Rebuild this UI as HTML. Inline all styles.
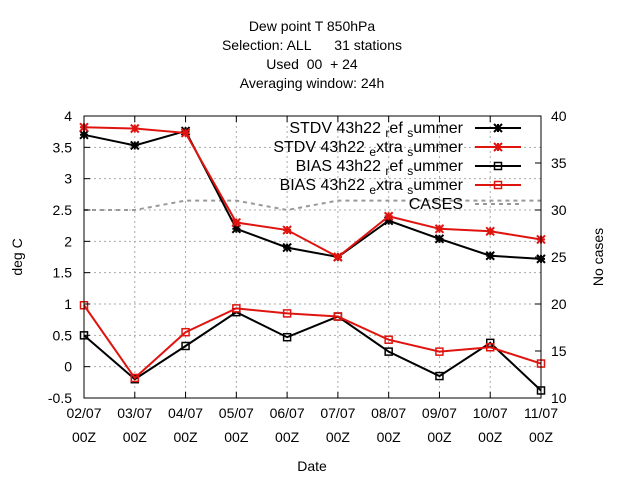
<!DOCTYPE html>
<html><head><meta charset="utf-8"><style>body{margin:0;background:#fff}svg text{font-family:"Liberation Sans",sans-serif;font-size:14px;white-space:pre}</style></head>
<body>
<svg id="c" width="640" height="480">
<g id="grid"></g>
<g id="marks"></g>
<rect x="84" y="116" width="457" height="282" fill="none" stroke="#000"/>
<g id="axes"></g>
<g text-anchor="middle" xml:space="preserve">
<text x="312" y="31">Dew point T 850hPa</text>
<text x="312" y="50">Selection: ALL      31 stations</text>
<text x="312" y="69">Used  00  + 24</text>
<text x="312" y="88">Averaging window: 24h</text></g>
<text x="312" y="471" text-anchor="middle">Date</text>
<text transform="translate(22,257) rotate(-90)" text-anchor="middle">deg C</text>
<text transform="translate(603,257) rotate(-90)" text-anchor="middle">No cases</text>
<g id="legend"></g>
</svg>
<script>
const dates=["02/07","03/07","04/07","05/07","06/07","07/07","08/07","09/07","10/07","11/07"];
const stdvRef=[3.7,3.53,3.76,2.2,1.9,1.75,2.33,2.04,1.77,1.72];
const stdvExtra=[3.82,3.8,3.73,2.3,2.18,1.75,2.4,2.2,2.16,2.03];
const biasRef=[0.5,-0.2,0.33,0.87,0.47,0.8,0.24,-0.15,0.38,-0.38];
const biasExtra=[0.98,-0.18,0.55,0.93,0.85,0.8,0.43,0.24,0.31,0.05];
const cases=[30,30,31,31,30,31,31,31,31,31];
const yTicks=[-0.5,0,0.5,1,1.5,2,2.5,3,3.5,4];
const y2Ticks=[10,15,20,25,30,35,40];
const NS="http://www.w3.org/2000/svg";
const X=i=>84+i*(457/(dates.length-1));
const Y=v=>398-(v+0.5)/4.5*282;
const Y2=v=>398-(v-10)/30*282;
function mk(p,t,a){const e=document.createElementNS(NS,t);for(const k in a)e.setAttribute(k,a[k]);p.appendChild(e);return e;}
const grid=document.getElementById('grid'),axes=document.getElementById('axes'),marks=document.getElementById('marks'),leg=document.getElementById('legend');
yTicks.forEach(v=>{const y=Y(v);
 if(v>-0.5&&v<4){const g=mk(grid,'line',{x1:84,x2:541,y1:y,y2:y,stroke:'#aaa','stroke-dasharray':'2,3'});}
 mk(axes,'line',{x1:84,x2:90,y1:y,y2:y,stroke:'#000'});
 const t=mk(axes,'text',{x:72,y:y+5,'text-anchor':'end'});t.textContent=v;
 });
y2Ticks.forEach(v=>{const y=Y2(v);mk(axes,'line',{x1:535,x2:541,y1:y,y2:y,stroke:'#000'});
 const t=mk(axes,'text',{x:551,y:y+5});t.textContent=v;
 });
dates.forEach((d,i)=>{const x=X(i);
 if(i>0&&i<dates.length-1){const g=mk(grid,'line',{x1:x,x2:x,y1:116,y2:398,stroke:'#aaa','stroke-dasharray':'2,3'});}
 mk(axes,'line',{x1:x,x2:x,y1:398,y2:392,stroke:'#000'});mk(axes,'line',{x1:x,x2:x,y1:116,y2:122,stroke:'#000'});
 const t=mk(axes,'text',{x:x,y:418,'text-anchor':'middle'});t.textContent=d;
 
 const t2=mk(axes,'text',{x:x,y:442,'text-anchor':'middle'});t2.textContent='00Z';
 });
function star(g,x,y,c){mk(g,'path',{d:`M${x-4} ${y-4}L${x+4} ${y+4}M${x-4} ${y+4}L${x+4} ${y-4}M${x-4} ${y}H${x+4}M${x} ${y-4}V${y+4}`,stroke:c,'stroke-width':2});}
function box(g,x,y,c){mk(g,'rect',{x:x-3.5,y:y-3.5,width:7,height:7,fill:'none',stroke:c,'stroke-width':1.5});}
const cs=mk(marks,'polyline',{points:cases.map((v,i)=>X(i)+','+Y2(v)).join(' '),fill:'none',stroke:'#999','stroke-width':2,'stroke-dasharray':'4,4'});

const series=[[stdvRef,'#000',star,'stdv-ref'],[stdvExtra,'#e0140f',star,'stdv-extra'],[biasRef,'#000',box,'bias-ref'],[biasExtra,'#e0140f',box,'bias-extra']];
series.forEach(([d,c,m,n])=>{const g=mk(marks,'g',{});
 
 mk(g,'polyline',{points:d.map((v,i)=>X(i)+','+Y(v)).join(' '),fill:'none',stroke:c,'stroke-width':2});
 d.forEach((v,i)=>m(g,X(i),Y(v),c));});
const labs=[['STDV 43h22','r','ef','s','ummer'],['STDV 43h22','e','xtra','s','ummer'],['BIAS 43h22','r','ef','s','ummer'],['BIAS 43h22','e','xtra','s','ummer']];
labs.forEach((l,k)=>{const y=128+k*19;const g=mk(leg,'g',{});
 
 const t=mk(g,'text',{x:463,y:y+5,'text-anchor':'end',style:'font-size:16px'});
 t.innerHTML=`${l[0]} <tspan dy="4" style="font-size:12px">${l[1]}</tspan><tspan dy="-4">${l[2]} </tspan><tspan dy="4" style="font-size:12px">${l[3]}</tspan><tspan dy="-4">${l[4]}</tspan>`;
 const [,c,m]=series[k];mk(g,'line',{x1:475,x2:521,y1:y,y2:y,stroke:c,'stroke-width':2});m(g,498,y,c);});
const gc=mk(leg,'g',{});
const tc=mk(gc,'text',{x:463,y:209,'text-anchor':'end',style:'font-size:16px'});tc.textContent='CASES';
mk(gc,'line',{x1:475,x2:521,y1:204,y2:204,stroke:'#999','stroke-width':2,'stroke-dasharray':'4,4'});
</script>
</body></html>
